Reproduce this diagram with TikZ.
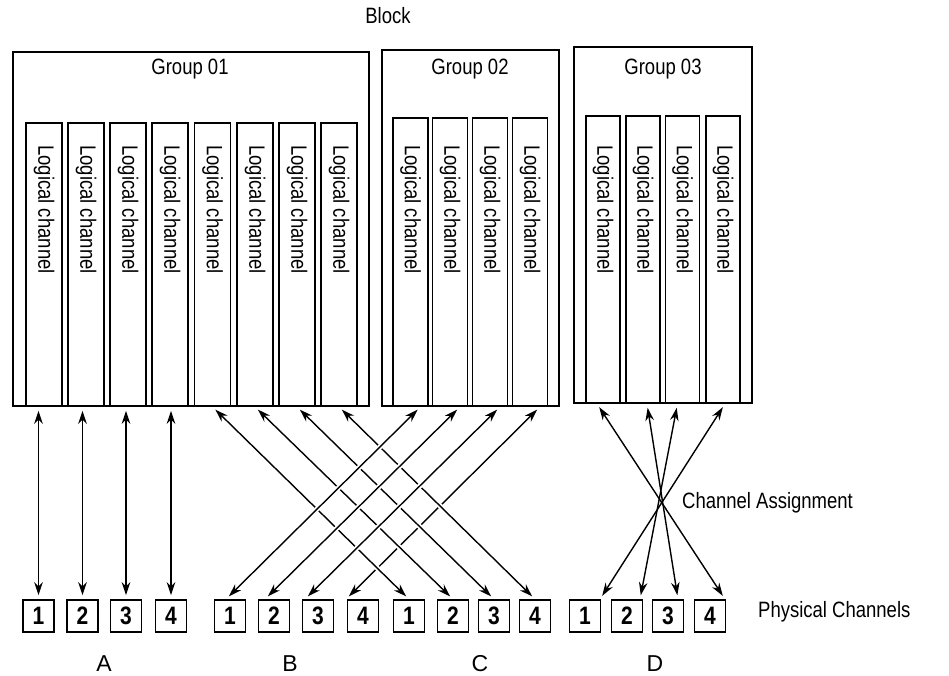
\documentclass[tikz,border=0pt]{standalone}
\usepackage{fontspec}
\setmainfont{Liberation Sans}
\usetikzlibrary{arrows.meta,calc}
\newcommand{\tallt}[1]{\scalebox{1}[1.2]{#1}}
\begin{document}
\begin{tikzpicture}[x=1pt,y=-1pt,
  box/.style={draw, line width=1.6pt, inner sep=0pt},
  lbl/.style={font=\fontsize{18.5}{18.5}\selectfont, inner sep=0pt},
  numbox/.style={box, minimum width=31pt, minimum height=32pt, font=\fontsize{21}{21}\selectfont\bfseries},
  letter/.style={inner sep=0pt, font=\fontsize{23}{23}\selectfont},
  conn/.style={line width=1.4pt, {Stealth[length=13pt,width=8.5pt]}-{Stealth[length=13pt,width=8.5pt]}, shorten <=4pt, shorten >=4pt},
  over/.style={preaction={draw=white, line width=5pt, arrows=-}}]
\useasboundingbox (0,0) rectangle (949,675);

% Title
\node[lbl] (block) at (388,16) {\tallt{Block}};

% Groups
\node[box, minimum width=356pt, minimum height=354pt] (g1) at (191,229) {};
\node[box, minimum width=177pt, minimum height=356pt] (g2) at (470.5,228) {};
\node[box, minimum width=178pt, minimum height=356pt] (g3) at (663,225) {};
\node[lbl] (g1l) at (190,69) {\tallt{Group 01}};
\node[lbl] (g2l) at (470,69) {\tallt{Group 02}};
\node[lbl] (g3l) at (663,69) {\tallt{Group 03}};

% Logical channels
\foreach \x [count=\i] in {44,86,128,170,212.5,255,297,339} {
  \node[box, minimum width=36pt, minimum height=283pt] (g1c\i) at (\x,264.5) {};
  \node[lbl, rotate=-90, anchor=west] (g1t\i) at (\x,145) {\tallt{Logical channel}};
}
\foreach \x [count=\i] in {410.5,450,490,530} {
  \node[box, minimum width=35pt, minimum height=288pt] (g2c\i) at (\x,262) {};
  \node[lbl, rotate=-90, anchor=west] (g2t\i) at (\x,145) {\tallt{Logical channel}};
}
\foreach \x [count=\i] in {603,643,682.5,723} {
  \node[box, minimum width=34pt, minimum height=287pt] (g3c\i) at (\x,259.5) {};
  \node[lbl, rotate=-90, anchor=west] (g3t\i) at (\x,145) {\tallt{Logical channel}};
}

% Physical channels
\foreach \x [count=\i] in {38.5,82.5,126,171} \node[numbox] (pa\i) at (\x,616) {\tallt{\i}};
\foreach \x [count=\i] in {230,274,318,363} \node[numbox] (pb\i) at (\x,616) {\tallt{\i}};
\foreach \x [count=\i] in {409,453,494,535} \node[numbox] (pc\i) at (\x,616) {\tallt{\i}};
\foreach \x [count=\i] in {585,627,668,710} \node[numbox] (pd\i) at (\x,616) {\tallt{\i}};

\node[letter] (la) at (104,664) {A};
\node[letter] (lb) at (290,664) {B};
\node[letter] (lc) at (480,664) {C};
\node[letter] (ld) at (655,664) {D};

\node[lbl, anchor=west] (ca) at (682,503) {\tallt{Channel Assignment}};
\node[lbl, anchor=west] (pcl) at (758,612) {\tallt{Physical Channels}};

% A: straight
\foreach \i in {1,...,4} \draw[conn] (pa\i.north) -- (pa\i.north |- g1c\i.south);

% B4 behind
\draw[conn] ($(g2c4.south)+(10,0)$) -- ($(pb4.north)+(-17,0)$);
% Group 01 channels 5-8 to C
\foreach \i/\j in {1/5,2/6,3/7,4/8} \draw[conn,over] (g1c\j.south) -- (pc\i.north);
% B1-B3 on top
\draw[conn,over] ($(g2c3.south)+(10,0)$) -- ($(pb3.north)+(-13,0)$);
\draw[conn,over] ($(g2c2.south)+(10,0)$) -- ($(pb2.north)+(-9,0)$);
\draw[conn,over] ($(g2c1.south)+(10,0)$) -- ($(pb1.north)+(-4,0)$);

% D: reversed
\draw[conn] ($(g3c1.south)+(-6,0)$) -- ($(pd4.north)+(15,0)$);
\draw[conn] ($(g3c2.south)+(4,0)$) -- ($(pd3.north)+(10,0)$);
\draw[conn] ($(g3c3.south)+(-5,0)$) -- ($(pd2.north)+(13,0)$);
\draw[conn] ($(g3c4.south)+(2,0)$) -- ($(pd1.north)+(15,0)$);
\end{tikzpicture}
\end{document}
